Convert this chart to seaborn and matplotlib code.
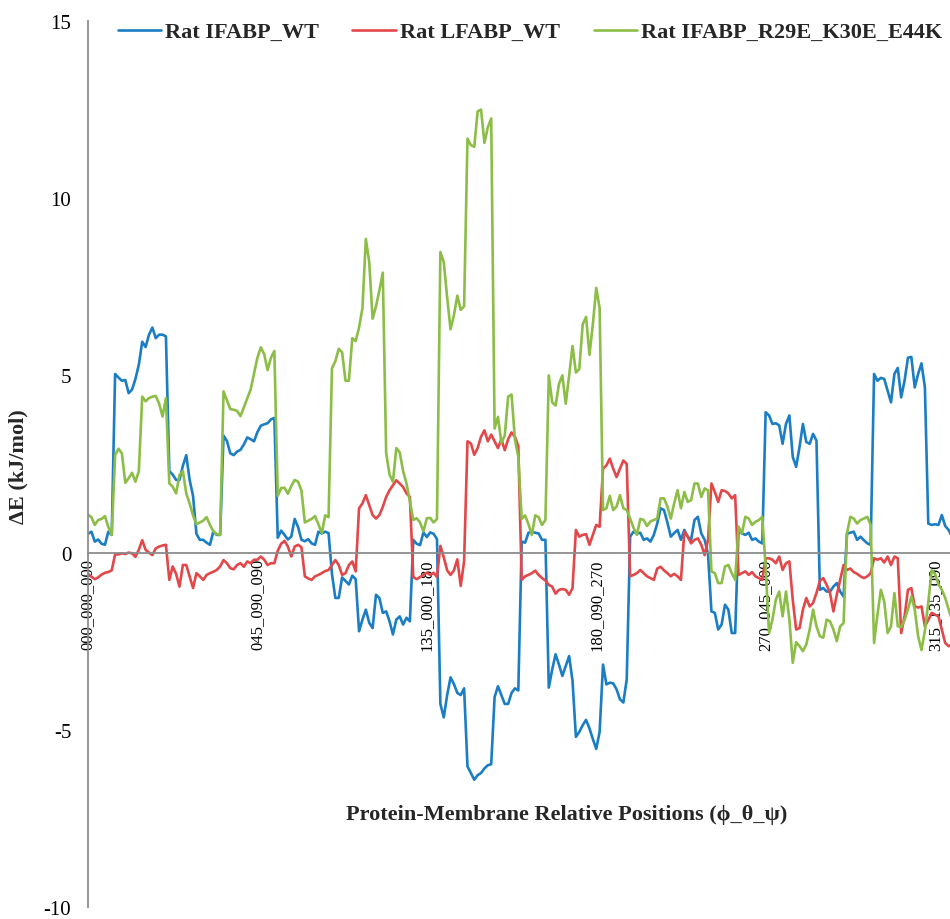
import numpy as np
import pandas as pd
import matplotlib
matplotlib.use("Agg")
import matplotlib.pyplot as plt
import seaborn as sns

# ---- categories: phi_theta_psi (8 x 4 x 8 = 256 positions) ----
phi_vals = ["000", "045", "090", "135", "180", "225", "270", "315"]
theta_vals = ["000", "045", "090", "135"]
psi_vals = ["000", "045", "090", "135", "180", "225", "270", "315"]
categories = [f"{a}_{b}_{c}" for a in phi_vals for b in theta_vals for c in psi_vals]
label_step = 50

series_names = ["Rat IFABP_WT", "Rat LFABP_WT", "Rat IFABP_R29E_K30E_E44K"]
series_colors = ["#1B7DC3", "#E2474A", "#8CBD47"]

# ---- values (kJ/mol), 8 per (phi, theta) block ----
ifabp_wt = [
    0.53, 0.59, 0.31, 0.37, 0.25, 0.22, 0.59, 0.50,
    5.04, 4.94, 4.85, 4.87, 4.50, 4.60, 4.90, 5.30,
    5.95, 5.80, 6.15, 6.35, 6.05, 6.15, 6.15, 6.10,
    2.30, 2.20, 2.05, 2.05, 2.45, 2.75, 2.05, 1.60,
    0.53, 0.36, 0.36, 0.28, 0.22, 0.60, 0.50, 0.50,
    3.30, 3.15, 2.80, 2.75, 2.85, 2.90, 3.05, 3.25,
    3.20, 3.14, 3.40, 3.58, 3.62, 3.65, 3.76, 3.80,
    0.42, 0.62, 0.50, 0.37, 0.45, 0.95, 0.72, 0.36,
    0.32, 0.38, 0.26, 0.22, 0.59, 0.54, 0.59, 0.55,
    -0.60, -1.28, -1.28, -0.70, -0.80, -0.90, -0.65, -0.75,
    -2.22, -1.89, -1.61, -1.98, -2.13, -1.19, -1.28, -1.70,
    -1.66, -1.94, -2.31, -1.89, -1.80, -2.03, -1.84, -1.94,
    0.36, 0.25, 0.21, 0.57, 0.44, 0.57, 0.53, 0.38,
    -4.27, -4.65, -4.02, -3.52, -3.71, -3.96, -4.02, -3.83,
    -6.03, -6.22, -6.41, -6.28, -6.22, -6.09, -6.00, -5.97,
    -4.08, -3.77, -4.02, -4.27, -4.27, -3.96, -3.83, -3.89,
    0.31, 0.28, 0.56, 0.58, 0.56, 0.54, 0.36, 0.36,
    -3.81, -3.30, -2.87, -3.16, -3.48, -3.20, -2.92, -3.62,
    -5.20, -5.06, -4.87, -4.72, -4.96, -5.26, -5.54, -5.06,
    -3.16, -3.72, -3.67, -3.69, -3.86, -4.14, -4.23, -3.58,
    0.45, 0.59, 0.54, 0.56, 0.36, 0.40, 0.31, 0.50,
    0.82, 1.25, 1.20, 0.85, 0.45, 0.55, 0.64, 0.36,
    0.64, 0.45, 0.36, 0.92, 1.01, 0.54, 0.36, -0.05,
    -1.66, -1.70, -2.17, -2.03, -1.47, -1.61, -2.27, -2.27,
    0.64, 0.54, 0.50, 0.56, 0.36, 0.40, 0.31, 0.26,
    3.96, 3.87, 3.63, 3.65, 3.59, 3.07, 3.63, 3.87,
    2.70, 2.42, 2.98, 3.63, 3.12, 3.07, 3.35, 3.16,
    -1.05, -1.00, -1.10, -1.10, -0.96, -0.86, -1.10, -1.24,
    0.54, 0.56, 0.59, 0.36, 0.45, 0.35, 0.26, 0.22,
    5.04, 4.85, 4.93, 4.90, 4.57, 4.24, 5.04, 5.21,
    4.38, 4.85, 5.50, 5.52, 4.66, 5.04, 5.34, 4.66,
    0.82, 0.78, 0.80, 0.78, 1.06, 0.75, 0.64, 0.45,
]

lfabp_wt = [
    -0.60, -0.68, -0.75, -0.70, -0.62, -0.57, -0.55, -0.50,
    -0.05, -0.05, -0.02, -0.04, 0.00, -0.02, -0.12, 0.08,
    0.35, 0.08, 0.00, -0.07, 0.12, 0.17, 0.20, 0.22,
    -0.77, -0.39, -0.60, -0.96, -0.35, -0.35, -0.67, -1.00,
    -0.58, -0.67, -0.77, -0.63, -0.58, -0.54, -0.49, -0.39,
    -0.21, -0.30, -0.44, -0.47, -0.35, -0.30, -0.40, -0.25,
    -0.30, -0.20, -0.20, -0.11, -0.20, -0.35, -0.30, -0.30,
    0.05, 0.25, 0.33, 0.17, -0.11, 0.17, 0.22, 0.15,
    -0.67, -0.73, -0.77, -0.67, -0.63, -0.58, -0.52, -0.49,
    -0.35, -0.21, -0.35, -0.63, -0.58, -0.35, -0.25, -0.53,
    1.25, 1.39, 1.62, 1.34, 1.06, 0.96, 1.06, 1.29,
    1.57, 1.76, 1.90, 2.04, 1.95, 1.85, 1.67, 1.57,
    -0.69, -0.75, -0.69, -0.63, -0.57, -0.63, -0.57, -0.69,
    0.19, -0.13, -0.50, -0.63, -0.50, -0.19, -0.94, -0.25,
    3.14, 3.08, 2.76, 2.95, 3.27, 3.45, 3.14, 3.33,
    3.14, 2.95, 3.20, 2.89, 3.20, 3.39, 3.27, 3.00,
    -0.77, -0.67, -0.63, -0.58, -0.51, -0.63, -0.72, -0.79,
    -0.91, -0.96, -1.16, -1.05, -1.03, -1.05, -1.19, -1.00,
    0.64, 0.45, 0.50, 0.52, 0.22, 0.50, 0.78, 0.73,
    2.37, 2.46, 2.65, 2.37, 2.13, 2.37, 2.60, 2.50,
    -0.67, -0.63, -0.58, -0.49, -0.58, -0.67, -0.72, -0.77,
    -0.45, -0.40, -0.50, -0.58, -0.67, -0.60, -0.67, -0.77,
    0.59, 0.45, 0.26, 0.36, 0.40, 0.22, -0.07, 0.36,
    1.95, 1.71, 1.43, 1.76, 1.74, 1.67, 1.53, 1.62,
    -0.63, -0.58, -0.53, -0.63, -0.55, -0.67, -0.72, -0.77,
    -0.16, -0.16, -0.20, -0.30, -0.11, -0.49, -0.30, -0.25,
    -1.33, -2.17, -2.13, -1.61, -1.28, -1.52, -1.42, -1.14,
    -0.80, -0.72, -0.91, -1.14, -1.66, -1.19, -0.77, -0.35,
    -0.49, -0.45, -0.55, -0.60, -0.67, -0.72, -0.67, -0.58,
    -0.16, -0.20, -0.16, -0.28, -0.11, -0.35, -0.11, -0.16,
    -2.27, -1.80, -1.05, -1.00, -1.52, -1.55, -1.52, -2.08,
    -1.90, -1.70, -1.75, -1.80, -2.17, -2.55, -2.64, -2.60,
]

ifabp_mut = [
    1.07, 1.00, 0.78, 0.92, 0.95, 1.03, 0.72, 0.50,
    2.75, 2.93, 2.80, 1.97, 2.10, 2.25, 2.00, 2.30,
    4.40, 4.27, 4.36, 4.40, 4.42, 4.20, 3.84, 4.36,
    1.95, 1.86, 1.67, 2.19, 2.30, 1.67, 1.38, 1.05,
    0.80, 0.85, 0.90, 1.00, 0.78, 0.60, 0.52, 0.50,
    4.55, 4.30, 4.05, 4.03, 4.00, 3.85, 4.10, 4.35,
    4.60, 5.05, 5.50, 5.79, 5.60, 5.15, 5.50, 5.69,
    1.60, 1.82, 1.83, 1.66, 1.88, 2.05, 2.00, 1.75,
    0.85, 0.90, 0.95, 1.03, 0.80, 0.55, 1.05, 1.00,
    5.20, 5.40, 5.75, 5.65, 4.85, 4.85, 6.05, 5.97,
    6.35, 6.90, 8.85, 8.20, 6.60, 6.95, 7.40, 7.90,
    2.80, 2.20, 2.00, 2.95, 2.83, 2.30, 1.95, 1.45,
    0.92, 0.97, 0.85, 0.60, 0.97, 0.98, 0.85, 0.95,
    8.48, 8.20, 7.20, 6.30, 6.70, 7.25, 6.85, 6.95,
    11.68, 11.50, 11.45, 12.45, 12.50, 11.56, 12.00, 12.25,
    3.50, 3.83, 3.10, 3.30, 4.40, 4.46, 3.20, 2.70,
    0.95, 1.05, 0.80, 0.50, 1.05, 1.00, 0.78, 0.92,
    5.00, 4.24, 4.15, 4.76, 5.00, 4.20, 5.00, 5.83,
    5.08, 5.18, 6.44, 6.65, 5.58, 6.44, 7.47, 6.90,
    1.20, 1.25, 1.60, 1.20, 1.30, 1.62, 1.25, 1.20,
    0.96, 0.70, 0.50, 0.95, 0.92, 0.75, 0.88, 0.92,
    0.96, 1.53, 1.53, 1.30, 0.96, 1.39, 1.76, 1.25,
    1.71, 1.43, 1.48, 1.95, 1.95, 1.57, 1.81, 1.76,
    -0.53, -0.58, -0.86, -0.86, -0.39, -0.35, -0.58, -0.77,
    0.73, 0.54, 1.01, 0.96, 0.78, 0.87, 0.92, 1.01,
    -0.39, -2.27, -1.89, -1.33, -1.10, -1.80, -1.10, -1.89,
    -3.11, -2.53, -2.64, -2.78, -2.59, -2.17, -1.61, -2.08,
    -2.36, -2.40, -1.89, -1.94, -2.17, -2.50, -2.08, -1.99,
    0.54, 1.01, 0.96, 0.82, 0.92, 0.96, 1.01, 0.78,
    -2.55, -1.75, -1.05, -1.38, -2.27, -2.08, -1.14, -2.08,
    -2.10, -1.90, -1.60, -1.24, -1.60, -2.36, -2.75, -2.20,
    -1.40, -0.50, -0.60, -0.90, -1.05, -1.28, -1.60, -1.90,
]

y_ticks = [-10, -5, 0, 5, 10, 15]
y_tick_labels = ["-10", "-5", "0", "5", "10", "15"]

# ---- long-form table ----
n = len(categories)
df = pd.DataFrame({
    "pos": np.tile(np.arange(n), 3),
    "dE": ifabp_wt + lfabp_wt + ifabp_mut,
    "series": np.repeat(series_names, n),
})

sns.set_theme(style="white")
plt.rcParams["font.family"] = ["Liberation Serif", "DejaVu Serif"]

W, H = 950, 920
fig = plt.figure(figsize=(W / 100, H / 100), dpi=100)
ax = fig.add_axes([88 / W, 12 / H, 864 / W, 886 / H])

sns.lineplot(data=df, x="pos", y="dE", hue="series", hue_order=series_names,
             palette=series_colors, linewidth=1.9, ax=ax, legend=False)

for s in ["top", "right"]:
    ax.spines[s].set_visible(False)
ax.spines["bottom"].set_position(("data", 0))
ax.spines["bottom"].set_color("#8c8c8c")
ax.spines["bottom"].set_linewidth(1.3)
ax.spines["left"].set_color("#8c8c8c")
ax.spines["left"].set_linewidth(1.3)

ax.set_xlim(0, n - 1)
ax.set_ylim(-10, 15)
ax.set_yticks(y_ticks)
ax.set_yticklabels(y_tick_labels, fontsize=15)

tick_pos = list(range(0, n, label_step))
ax.set_xticks(tick_pos)
ax.set_xticklabels([categories[i] for i in tick_pos], fontsize=12)
ax.tick_params(axis="x", length=0, pad=4, colors="black", labelrotation=90)
ax.tick_params(axis="y", length=0, pad=12, colors="black")
for lab in ax.get_xticklabels():
    lab.set_va("top")
    lab.set_ha("center")
ax.set_xlabel("")
ax.set_ylabel("")

fig.text(18 / W, 1 - 467 / H, "ΔE (kJ/mol)", rotation=90, fontsize=16,
         fontweight="bold", ha="center", va="center")
fig.text(567 / W, 1 - 815 / H, "Protein-Membrane Relative Positions (ϕ_θ_ψ)",
         fontsize=16, fontweight="bold", ha="center", va="center")

handles = [plt.Line2D([], [], color=c, lw=1.9) for c in series_colors]
fig.legend(handles, series_names, loc="center", bbox_to_anchor=(530 / W, 1 - 33 / H),
           ncol=3, frameon=False, prop={"size": 16, "weight": "bold"},
           handlelength=1.95, handletextpad=0.2, columnspacing=1.5)

fig.savefig("out.png", dpi=100)
